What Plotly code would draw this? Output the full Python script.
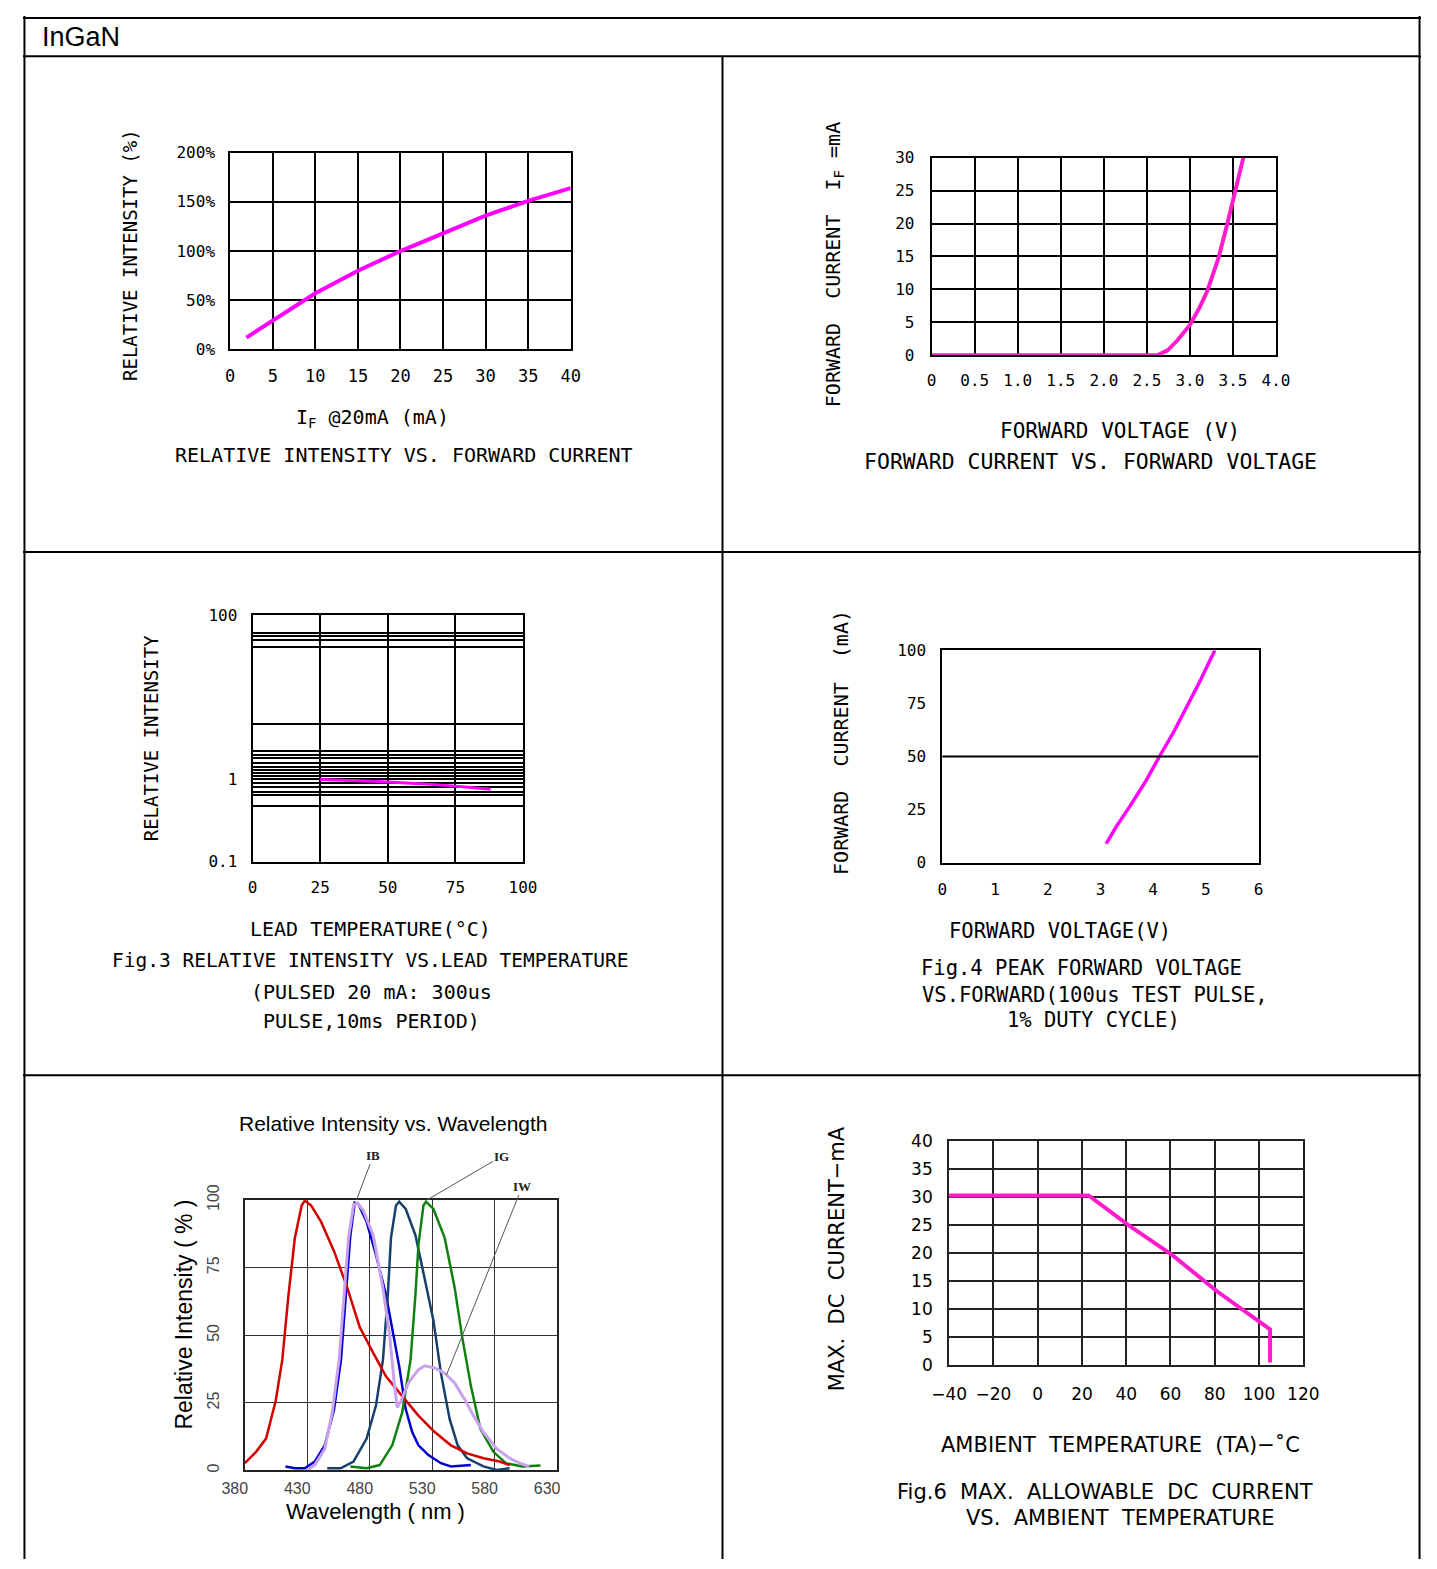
import plotly.graph_objects as go

W, H = 1437, 1569

# ---------------- data ----------------
# Panel 1: relative intensity vs forward current
p1_current = [1.9, 5, 10, 15, 20, 25, 30, 35, 40]
p1_intensity = [12, 29, 57, 80, 100, 118, 136, 151, 164]

# Panel 2: forward current vs forward voltage
p2_voltage = [0, 0.5, 1.0, 1.5, 2.0, 2.5, 2.62, 2.74, 2.85, 3.0, 3.11, 3.2, 3.33, 3.435, 3.52, 3.62]
p2_current = [0, 0, 0, 0, 0, 0, 0, 0.75, 2.2, 4.6, 7.2, 9.7, 14.7, 20, 24.8, 30]

# Panel 3: relative intensity vs lead temperature (log scale)
p3_temp = [25, 37, 44, 50, 62, 75, 82, 88]
p3_intensity = [1.0, 0.98, 0.95, 0.93, 0.89, 0.83, 0.80, 0.76]
p3_gridvals = [0.47, 0.65, 0.7, 0.8, 0.9, 1.1, 1.2, 1.3, 1.4, 1.6, 1.8, 2.0, 2.2, 4.7, 41, 50, 55, 60]

# Panel 4: peak forward current vs forward voltage
p4_voltage = [3.11, 3.3, 3.57, 3.85, 4.12, 4.4, 4.65, 4.9, 5.17]
p4_current = [9, 17, 27, 38, 50, 62, 74, 86, 100]

# Panel 5: relative intensity vs wavelength
red_wl = [380, 389, 397, 404.7, 410, 415, 420, 425.5, 428, 433, 441, 451.5, 462, 472, 483, 493, 506, 519, 532, 545, 558, 571, 584, 592]
red_int = [2.7, 6.9, 11.8, 25.7, 40.9, 65, 85.8, 98, 99.8, 98, 92, 81, 67.6, 53, 43.3, 34.8, 27.5, 20.3, 14.2, 9.3, 6.3, 4.5, 3.3, 2]

blue_wl = [412.5, 420, 428, 436, 444, 451.5, 457, 460.6, 464.5, 468, 471, 477.5, 485, 493, 498, 503.6, 508.8, 514, 519, 527, 537, 545, 561]
blue_int = [1.5, 0.8, 0.8, 3.3, 9.3, 22.7, 41, 65, 87, 99, 98.5, 92, 79.7, 65, 53, 38.5, 22.7, 14.2, 9.3, 5.7, 2.7, 1.5, 2]

navy_wl = [446, 456.7, 467, 477.5, 485, 490.6, 494.5, 497, 501, 503.6, 508.8, 516.6, 524.4, 531, 537, 544, 550.4, 558, 571, 581.6, 592]
navy_int = [0.8, 0.8, 3.3, 11.8, 24, 41, 65, 86, 98, 99.4, 96.7, 87, 70, 55.5, 36, 19, 9.3, 4.5, 1.5, 0.2, 0.8]

green_wl = [464.5, 477.5, 488, 498, 506, 512.7, 516.6, 519, 523, 525, 531, 540, 548, 554, 561, 568.6, 579, 589, 602, 616.7]
green_int = [1.5, 0.8, 2, 9.3, 21.5, 41, 65, 83.4, 98, 99.4, 96.7, 86, 67.6, 49.4, 31.2, 15.4, 6.9, 2.7, 1.5, 1.8]

white_wl = [428, 436, 444, 450, 455.5, 459.4, 463, 467, 470, 475, 482.8, 490.5, 495.8, 499.6, 502, 505, 511, 519, 524, 532, 540, 548, 556, 563, 571, 581.6, 592, 600, 607.6]
white_int = [-0.4, 2, 8, 21.5, 41, 65, 86, 98, 99, 96, 87, 67.6, 50.6, 32.4, 23.3, 25.7, 32.4, 37.3, 38.7, 37.9, 36, 32.4, 26.3, 20.3, 14.2, 8.1, 4.5, 2.7, 1.5]

# Panel 6: max DC current vs ambient temperature
p6_temp = [-40, 23, 41, 61, 81, 105, 105]
p6_current = [30.3, 30.3, 25, 19.6, 13.2, 6.4, 0.5]

# ---------------- helpers ----------------
MONO = "DejaVu Sans Mono"
SANS = "DejaVu Sans"
ARIAL = "Liberation Sans"
MAG = "#ff00ff"
MAG2 = "#ff1ccc"

fig = go.Figure()


def dx(l, r):
    return [l / W, r / W]


def dy(t, b):
    return [1 - b / H, 1 - t / H]


def line(xv, yv, n, color, width):
    sfx = "" if n == 1 else str(n)
    fig.add_trace(go.Scatter(x=xv, y=yv, mode="lines", line=dict(color=color, width=width),
                             xaxis="x" + sfx, yaxis="y" + sfx, showlegend=False, hoverinfo="skip"))


def axis(n, letter, domain, rng, tickvals, ticktext, font, size, grid=True, gcol="black", gw=2,
         lcol="black", lw=2, standoff=10, typ="linear", color="black", angle=None, shift=None, minor=None):
    sfx = "" if n == 1 else str(n)
    other = ("y" if letter == "x" else "x") + sfx
    d = dict(domain=domain, range=rng, type=typ, anchor=other, tickmode="array", tickvals=tickvals,
             ticktext=ticktext, showgrid=grid, gridcolor=gcol, gridwidth=gw, zeroline=False,
             showline=True, mirror=True, linecolor=lcol, linewidth=lw, ticks="",
             tickfont=dict(family=font, size=size, color=color), ticklabelstandoff=standoff,
             fixedrange=True)
    if angle is not None:
        d["tickangle"] = angle
    if shift is not None:
        d["ticklabelshift"] = shift
    if minor is not None:
        d["minor"] = minor
    fig.layout[letter + "axis" + sfx] = d


annotations = []


def text(t, px, py, size, font=MONO, angle=0, color="black", xanchor="center"):
    annotations.append(dict(text=t, x=px / W, y=1 - py / H, xref="paper", yref="paper",
                            showarrow=False, xanchor=xanchor, yanchor="middle", textangle=angle,
                            font=dict(family=font, size=size, color=color)))


S = "\u00a0"

# ---------------- panel 1 ----------------
line(p1_current, p1_intensity, 1, MAG, 4)
axis(1, "x", dx(213, 563), [0, 40], list(range(0, 41, 5)), [str(v) for v in range(0, 41, 5)], MONO, 17)
axis(1, "y", dy(139, 339), [0, 200], [0, 50, 100, 150, 200], ["0%", "50%", "100%", "150%", "200%"], MONO, 16)
text("RELATIVE" + S + "INTENSITY" + S + "(%)", 110, 243, 19, angle=-90)
text("I<sub>F</sub> @20mA (mA)", 359, 409, 20)
text("RELATIVE INTENSITY VS. FORWARD CURRENT", 392, 446, 20)

# ---------------- panel 2 ----------------
line(p2_voltage, p2_current, 2, MAG2, 4)
xv2 = [0, 0.5, 1.0, 1.5, 2.0, 2.5, 3.0, 3.5, 4.0]
axis(2, "x", dx(934, 1288), [0, 4], xv2, ["0", "0.5", "1.0", "1.5", "2.0", "2.5", "3.0", "3.5", "4.0"], MONO, 16)
axis(2, "y", dy(144, 345), [0, 30], [0, 5, 10, 15, 20, 25, 30], ["0", "5", "10", "15", "20", "25", "30"], MONO, 16, standoff=12)
text("FORWARD" + S + S + "CURRENT" + S + S + "I<sub>F</sub>" + S + "=mA", 833, 253, 20, angle=-90)
text("FORWARD VOLTAGE (V)", 1128, 422, 21)
text("FORWARD CURRENT VS. FORWARD VOLTAGE", 1097, 453, 21.5)

# ---------------- panel 3 ----------------
line(p3_temp, p3_intensity, 3, MAG, 3)
axis(3, "x", dx(236, 514), [0, 100], [0, 25, 50, 75, 100], ["0", "25", "50", "75", "100"], MONO, 16)
axis(3, "y", dy(609, 860), [-1, 2], [0.1, 1, 100], ["0.1", "1", "100"], MONO, 16, typ="log",
     minor=dict(tickmode="array", tickvals=p3_gridvals, showgrid=True, gridcolor="black", gridwidth=2, ticks=""))
text("RELATIVE INTENSITY", 131, 734, 19, angle=-90)
text("LEAD TEMPERATURE(\u00b0C)", 357, 928, 20)
text("Fig.3 RELATIVE INTENSITY VS.LEAD TEMPERATURE", 357, 960, 19.5)
text("(PULSED 20 mA: 300us", 358, 992, 20)
text("PULSE,10ms PERIOD)", 358, 1022, 20)

# ---------------- panel 4 ----------------
line(p4_voltage, p4_current, 4, MAG, 3.5)
axis(4, "x", dx(945, 1270), [0, 6], list(range(0, 7)), [str(v) for v in range(0, 7)], MONO, 16, grid=False, standoff=11)
axis(4, "y", dy(645, 861), [0, 100], [0, 25, 50, 75, 100], ["0", "25", "50", "75", "100"], MONO, 16, grid=False, standoff=11)
fig.add_shape(type="line", xref="x4 domain", yref="y4", x0=0, x1=1, y0=50, y1=50,
              line=dict(color="black", width=2))
text("FORWARD" + S + S + "CURRENT" + S + S + "(mA)", 841, 739, 20, angle=-90)
text("FORWARD VOLTAGE(V)", 1066, 930, 20.5)
text("Fig.4 PEAK FORWARD VOLTAGE", 1088, 968, 20.5)
text("VS.FORWARD(100us TEST PULSE,", 1102, 995, 20.5)
text("1% DUTY CYCLE)", 1100, 1021, 20.5)

# ---------------- panel 5 ----------------
line(blue_wl, blue_int, 5, "#0000d0", 2.5)
line(navy_wl, navy_int, 5, "#17406b", 2.5)
line(green_wl, green_int, 5, "#118011", 2.5)
line(red_wl, red_int, 5, "#d40000", 2.5)
line(white_wl, white_int, 5, "#c9a2ee", 3)
wl_ticks = [380, 430, 480, 530, 580, 630]
axis(5, "x", dx(228, 549), [380, 630], wl_ticks, [str(v) for v in wl_ticks], ARIAL, 16,
     gcol="#333333", gw=1, lcol="#222222", lw=1.5, standoff=3, color="#444444", shift=-10)
axis(5, "y", dy(1204, 1479), [0, 100], [0, 25, 50, 75, 100], ["0", "25", "50", "75", "100"], ARIAL, 16,
     gcol="#333333", gw=1, lcol="#222222", lw=1.5, standoff=18, color="#444444", angle=-90)
text("Relative Intensity vs. Wavelength", 381, 1126, 21, font=ARIAL)
text("Relative Intensity ( % )", 166, 1320, 23, font=ARIAL, angle=-90)
text("Wavelength ( nm )", 362, 1521, 22, font=ARIAL)
for lab, tipx, tipy, ax_, ay_ in [("IB", 469.4, 100, 17, -45), ("IG", 525.8, 100, 75, -44),
                                  ("IW", 541.4, 35.3, 76, -189)]:
    annotations.append(dict(text="<b>" + lab + "</b>", x=tipx, y=tipy, xref="x5", yref="y5",
                            showarrow=True, arrowhead=0, arrowwidth=1, arrowcolor="#555555",
                            ax=ax_, ay=ay_, font=dict(family="Liberation Serif", size=13, color="#222222")))

# ---------------- panel 6 ----------------
line(p6_temp, p6_current, 6, MAG2, 4)
t6 = list(range(-40, 121, 20))
axis(6, "x", dx(952, 1316), [-40, 120], t6, [str(v).replace("-", "\u2212") for v in t6], SANS, 17,
     gcol="#222222", lcol="#222222", standoff=12)
axis(6, "y", dy(1144, 1372), [0, 40], list(range(0, 41, 5)), [str(v) for v in range(0, 41, 5)], SANS, 17,
     gcol="#222222", lcol="#222222", standoff=11)
text("MAX." + S + S + "DC" + S + S + "CURRENT\u2212mA", 837, 1264, 21, font=SANS, angle=-90)
text("AMBIENT" + S + S + "TEMPERATURE" + S + S + "(TA)\u2212\u02daC", 1128, 1453, 21, font=SANS)
text("Fig.6" + S + S + "MAX." + S + S + "ALLOWABLE" + S + S + "DC" + S + S + "CURRENT", 1112, 1501, 21, font=SANS)
text("VS." + S + S + "AMBIENT" + S + S + "TEMPERATURE", 1128, 1527, 21, font=SANS)

# ---------------- table frame ----------------
text("InGaN", 17, 21, 27, font=ARIAL, xanchor="left")
frame = dict(color="black", width=2)
for x0, y0, x1, y1 in [(0, 2, W, 2), (1.5, 0, 1.5, H), (1435.5, 0, 1435.5, H), (0, 41, W, 41),
                       (0, 545, W, 545), (0, 1077, W, 1077), (719, 41, 719, H)]:
    fig.add_shape(type="line", xref="paper", yref="paper", x0=x0 / W, x1=x1 / W,
                  y0=1 - y0 / H, y1=1 - y1 / H, line=frame)

fig.update_layout(width=W, height=H, autosize=False, margin=dict(l=0, r=0, t=0, b=0, pad=0),
                  paper_bgcolor="white", plot_bgcolor="white", showlegend=False, annotations=annotations)

fig.write_html("out.html", config={"displayModeBar": False},
               post_script="document.body.style.margin='0';")
